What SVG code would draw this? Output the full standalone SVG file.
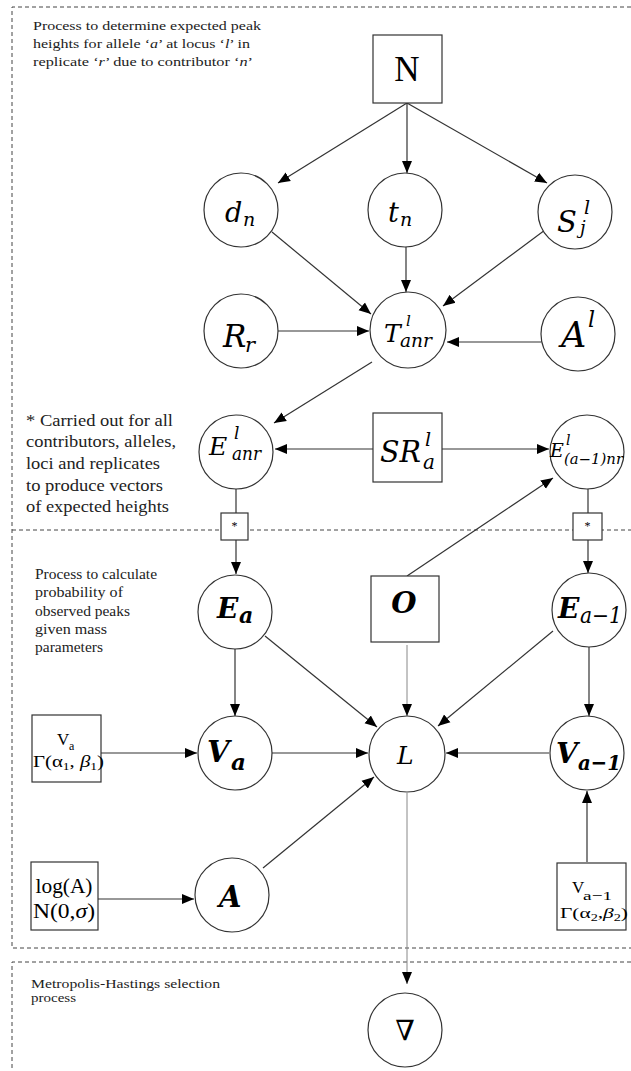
<svg xmlns="http://www.w3.org/2000/svg" width="631" height="1071" viewBox="0 0 631 1071">
<defs>
<marker id="ah" markerUnits="userSpaceOnUse" markerWidth="12" markerHeight="12" viewBox="0 0 12 12" refX="12" refY="6" orient="auto"><path d="M0,1 L12,6 L0,11 Z" fill="#000"/></marker>
</defs>
<style>
.dash{fill:none;stroke:#444;stroke-width:1;stroke-dasharray:4 3}
.nd{fill:#fff;stroke:#333;stroke-width:1.2}
.cap{font-family:"Liberation Serif",serif;fill:#222}
.m{font-family:"DejaVu Serif",serif;font-style:italic;fill:#000}
.mb{font-family:"DejaVu Serif",serif;font-style:italic;font-weight:bold;fill:#000}
.rm{font-family:"Liberation Serif",serif;fill:#000}
.e{fill:none;stroke:#333;stroke-width:1.2;marker-end:url(#ah)}
.ln{fill:none;stroke:#333;stroke-width:1.2}
.lt{fill:none;stroke:#888;stroke-width:1;marker-end:url(#ah)}
</style>
<rect width="631" height="1071" fill="#fff"/>
<g id="frames">
<path class="dash" d="M631,7 H12 V948 H631"/>
<path class="dash" d="M12,530 H631"/>
<path class="dash" d="M631,962 H12 V1071"/>
</g>
<g id="captions" class="cap" font-family="Liberation Serif, serif">
<text x="33" y="30" font-size="13.5" textLength="228" lengthAdjust="spacingAndGlyphs">Process to determine expected peak</text>
<text x="33" y="48" font-size="13.5" textLength="217" lengthAdjust="spacingAndGlyphs">heights for allele ‘<tspan font-style="italic">a</tspan>’ at locus ‘<tspan font-style="italic">l</tspan>’ in</text>
<text x="33" y="66" font-size="13.5" textLength="220" lengthAdjust="spacingAndGlyphs">replicate ‘<tspan font-style="italic">r</tspan>’ due to contributor ‘<tspan font-style="italic">n</tspan>’</text>
<text x="26" y="426" font-size="17" textLength="147" lengthAdjust="spacingAndGlyphs">* Carried out for all</text>
<text x="26" y="447" font-size="17" textLength="150" lengthAdjust="spacingAndGlyphs">contributors, alleles,</text>
<text x="26" y="469" font-size="17" textLength="134" lengthAdjust="spacingAndGlyphs">loci and replicates</text>
<text x="26" y="491" font-size="17" textLength="137" lengthAdjust="spacingAndGlyphs">to produce vectors</text>
<text x="26" y="512" font-size="17" textLength="143" lengthAdjust="spacingAndGlyphs">of expected heights</text>
<text x="35" y="579" font-size="14" textLength="122" lengthAdjust="spacingAndGlyphs">Process to calculate</text>
<text x="35" y="597" font-size="14" textLength="88" lengthAdjust="spacingAndGlyphs">probability  of</text>
<text x="35" y="616" font-size="14" textLength="95" lengthAdjust="spacingAndGlyphs">observed peaks</text>
<text x="35" y="634" font-size="14" textLength="72" lengthAdjust="spacingAndGlyphs">given mass</text>
<text x="35" y="652" font-size="14" textLength="68" lengthAdjust="spacingAndGlyphs">parameters</text>
<text x="31" y="988" font-size="13" textLength="189" lengthAdjust="spacingAndGlyphs">Metropolis-Hastings selection</text>
<text x="31" y="1002" font-size="13" textLength="45" lengthAdjust="spacingAndGlyphs">process</text>
</g>
<g id="connectors">
<path class="e" d="M407,103 L278,183"/>
<path class="e" d="M407,103 L407,173"/>
<path class="e" d="M407,103 L547,183"/>
<path class="e" d="M272,232 L371,314"/>
<path class="e" d="M406,247 L406,292"/>
<path class="e" d="M545,230 L443,306"/>
<path class="e" d="M278,331 L369,331"/>
<path class="e" d="M541,342 L447,342"/>
<path class="e" d="M372,362 L274,423"/>
<path class="e" d="M373,449 L275,449"/>
<path class="e" d="M442,449 L549,449"/>
<path class="ln" d="M236,488 L236,513"/>
<path class="e" d="M236,540 L236,574"/>
<path class="ln" d="M588,489 L588,513"/>
<path class="e" d="M588,540 L588,573"/>
<path class="e" d="M407,576 L553,478"/>
<path class="e" d="M235,648 L235,716"/>
<path class="e" d="M265,636 L377,727"/>
<path class="lt" d="M407,645 L407,716"/>
<path class="e" d="M553,631 L438,726"/>
<path class="e" d="M589,647 L589,716"/>
<path class="e" d="M101,753 L197,753"/>
<path class="e" d="M272,753 L368,753"/>
<path class="e" d="M549,753 L446,753"/>
<path class="e" d="M263,868 L374,777"/>
<path class="e" d="M98,899 L194,899"/>
<path class="e" d="M587,862 L587,791"/>
<path class="lt" d="M407,793 L407,984"/>
</g>
<g id="node-N"><rect class="nd" x="373" y="35" width="69" height="68"/><text class="rm" x="407" y="81" font-size="35" text-anchor="middle">N</text></g>
<g id="node-dn"><circle class="nd" cx="241" cy="210" r="37"/><text class="m" x="225" y="222" font-size="27">d</text><text class="m" x="243" y="226" font-size="19">n</text></g>
<g id="node-tn"><circle class="nd" cx="405" cy="210" r="37"/><text class="m" x="388" y="222" font-size="27">t</text><text class="m" x="400" y="226" font-size="19">n</text></g>
<g id="node-Sj"><circle class="nd" cx="575" cy="212" r="37"/><text class="m" x="557" y="232" font-size="29">S</text><text class="m" x="584" y="214" font-size="19">l</text><text class="m" x="580" y="234" font-size="18">j</text></g>
<g id="node-Rr"><circle class="nd" cx="241" cy="331" r="37"/><text class="m" x="223" y="347" font-size="31">R</text><text class="m" x="245" y="352" font-size="21">r</text></g>
<g id="node-T"><circle class="nd" cx="408" cy="330" r="38"/><text class="m" x="384" y="342" font-size="25">T</text><text class="m" x="406" y="326" font-size="15">l</text><text class="m" x="400" y="347" font-size="18" textLength="32" lengthAdjust="spacingAndGlyphs">anr</text></g>
<g id="node-Al"><circle class="nd" cx="578" cy="334" r="37"/><text class="m" x="561" y="347" font-size="35">A</text><text class="m" x="588" y="327" font-size="22">l</text></g>
<g id="node-Eanr"><circle class="nd" cx="236" cy="452" r="37"/><text class="m" x="209" y="455" font-size="25">E</text><text class="m" x="234" y="439" font-size="17">l</text><text class="m" x="232" y="460" font-size="18" textLength="29" lengthAdjust="spacingAndGlyphs">anr</text></g>
<g id="node-SR"><rect class="nd" x="373" y="413" width="69" height="69"/><text class="m" x="380" y="462" font-size="30" textLength="41" lengthAdjust="spacingAndGlyphs">SR</text><text class="m" x="425" y="446" font-size="19">l</text><text class="m" x="423" y="469" font-size="20">a</text></g>
<g id="node-Ea1nr"><circle class="nd" cx="587" cy="452" r="37"/><text class="m" x="550" y="457" font-size="19">E</text><text class="m" x="566" y="445" font-size="14">l</text><text class="m" x="564" y="464" font-size="14" textLength="59" lengthAdjust="spacingAndGlyphs">(a−1)nr</text></g>
<g id="star-left"><rect class="nd" x="221" y="513" width="27" height="27"/><text class="rm" x="234.5" y="530" font-size="12" text-anchor="middle">*</text></g>
<g id="star-right"><rect class="nd" x="573" y="513" width="29" height="27"/><text class="rm" x="587.5" y="530" font-size="12" text-anchor="middle">*</text></g>
<g id="node-Ea"><circle class="nd" cx="235" cy="612" r="37"/><text class="mb" x="217" y="618" font-size="28">E</text><text class="m" x="239" y="623" font-size="22" font-weight="bold">a</text></g>
<g id="node-O"><rect class="nd" x="371" y="576" width="68" height="66"/><text class="mb" x="404" y="613" font-size="29" text-anchor="middle">O</text></g>
<g id="node-Ea1"><circle class="nd" cx="589" cy="610" r="37"/><text class="mb" x="558" y="618" font-size="28">E</text><text class="m" x="580" y="623" font-size="22" textLength="42" lengthAdjust="spacingAndGlyphs">a−1</text></g>
<g id="node-VaBox"><rect class="nd" x="32" y="715" width="69" height="67"/><text class="rm" x="57" y="745" font-size="17">V</text><text class="rm" x="69" y="750" font-size="12">a</text><text class="rm" x="33" y="767" font-size="17" textLength="71" lengthAdjust="spacingAndGlyphs">Γ(α<tspan font-size="11" dy="3">1</tspan><tspan dy="-3">, </tspan><tspan font-style="italic">β</tspan><tspan font-size="11" dy="3">1</tspan><tspan dy="-3">)</tspan></text></g>
<g id="node-Va"><circle class="nd" cx="235" cy="753" r="37"/><text class="mb" x="207" y="762" font-size="29">V</text><text class="mb" x="231" y="770" font-size="23">a</text></g>
<g id="node-L"><circle class="nd" cx="407" cy="754" r="38"/><text class="m" x="397" y="764" font-size="25">L</text></g>
<g id="node-Va1"><circle class="nd" cx="587" cy="753" r="37"/><text class="mb" x="556" y="763" font-size="28">V</text><text class="mb" x="578" y="770" font-size="21" textLength="43" lengthAdjust="spacingAndGlyphs">a−1</text></g>
<g id="node-logA"><rect class="nd" x="31" y="862" width="67" height="68"/><text class="rm" x="64" y="893" font-size="20" text-anchor="middle" textLength="57" lengthAdjust="spacingAndGlyphs">log(A)</text><text class="rm" x="64" y="918" font-size="20" text-anchor="middle" textLength="62" lengthAdjust="spacingAndGlyphs">N(0,<tspan font-style="italic">σ</tspan>)</text></g>
<g id="node-A"><circle class="nd" cx="232" cy="895" r="37"/><text class="mb" x="219" y="907" font-size="29">A</text></g>
<g id="node-Va1Box"><rect class="nd" x="557" y="863" width="69" height="67"/><text class="rm" x="572" y="893" font-size="17">V</text><text class="rm" x="583" y="900" font-size="13" textLength="29" lengthAdjust="spacingAndGlyphs">a−1</text><text class="rm" x="560" y="918" font-size="15" textLength="68" lengthAdjust="spacingAndGlyphs">Γ(α<tspan font-size="10" dy="3">2</tspan><tspan dy="-3">,</tspan><tspan font-style="italic">β</tspan><tspan font-size="10" dy="3">2</tspan><tspan dy="-3">)</tspan></text></g>
<g id="node-nabla"><circle class="nd" cx="405" cy="1030" r="37"/><text x="405" y="1040" font-family="DejaVu Serif, serif" font-size="28" text-anchor="middle">∇</text></g>
</svg>
